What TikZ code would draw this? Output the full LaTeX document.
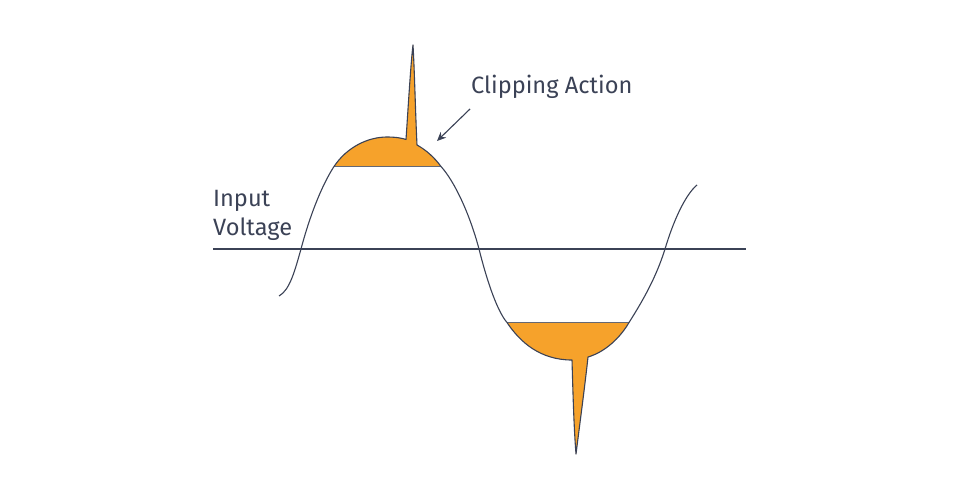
\documentclass[tikz,border=0pt]{standalone}
\usepackage{fontspec}
\setmainfont{Fira Sans}
\usetikzlibrary{arrows.meta}
\definecolor{navy}{RGB}{59,66,86}
\definecolor{cliporange}{RGB}{246,162,43}
\definecolor{clipgray}{RGB}{100,104,116}
\tikzset{
  wave/.style={draw=navy,line width=1.1pt,line join=round},
  clipfill/.style={fill=cliporange,draw=none},
  clipedge/.style={draw=clipgray,line width=1.3pt},
  axisline/.style={draw=navy,line width=1.1pt},
  lbl/.style={text=navy,inner sep=0pt,font=\fontsize{23.6}{29}\selectfont},
  pointer/.style={draw=navy,line width=1.1pt,-{Stealth[length=9pt,width=8pt]}}
}
\begin{document}
\begin{tikzpicture}[x=1pt,y=-1pt]
\useasboundingbox[fill=white] (0,0) rectangle (960,500);
% clipped regions
\fill[clipfill] (334,166.5)
  .. controls (347,147) and (368,137) .. (387,137)
  .. controls (397,137) and (403,138.5) .. (406,139.5)
  .. controls (408,110) and (411,60) .. (413,45)
  .. controls (414.5,70) and (415.5,115) .. (417,145)
  .. controls (426,150) and (434,157) .. (441,166.5) -- cycle;
\fill[clipfill] (507,322.5)
  .. controls (520,342) and (540,360) .. (572,360)
  .. controls (573,395) and (574,430) .. (576,454)
  .. controls (579,430) and (585,385) .. (588,357)
  .. controls (605,352) and (620,338) .. (629,322.5) -- cycle;
\coordinate (c1a) at (334,166.5);
\coordinate (c1b) at (441,166.5);
\coordinate (c2a) at (507,322.5);
\coordinate (c2b) at (629,322.5);
\draw[clipedge] (c1a) -- (c1b);
\draw[clipedge] (c2a) -- (c2b);
% axis
\coordinate (axL) at (213,249);
\coordinate (axR) at (746,249);
\draw[axisline] (axL) -- (axR);
% waveform
\draw[wave] (279,296) .. controls (290,290) and (295,270) .. (301,249)
  .. controls (310,215) and (322,185) .. (334,166.5)
  .. controls (347,147) and (368,137) .. (387,137)
  .. controls (397,137) and (403,138.5) .. (406,139.5)
  .. controls (408,110) and (411,60) .. (413,45)
  .. controls (414.5,70) and (415.5,115) .. (417,145)
  .. controls (426,150) and (434,157) .. (441,166.5)
  .. controls (455,182) and (470,215) .. (479,249)
  .. controls (488,285) and (498,312) .. (507,322.5)
  .. controls (520,342) and (540,360) .. (572,360)
  .. controls (573,395) and (574,430) .. (576,454)
  .. controls (579,430) and (585,385) .. (588,357)
  .. controls (605,352) and (620,338) .. (629,322.5)
  .. controls (642,302) and (656,278) .. (665,249)
  .. controls (673,222) and (685,195) .. (697,185);
% labels
\node[lbl,anchor=base west] (cliptext) at (471,94) {Clipping Action};
\node[lbl,anchor=base west,align=left] (inputtext) at (213,235) {Input\\Voltage};
\coordinate (arrS) at (470,109);
\coordinate (arrE) at (437,141);
\draw[pointer] (arrS) -- (arrE);
\end{tikzpicture}
\end{document}
